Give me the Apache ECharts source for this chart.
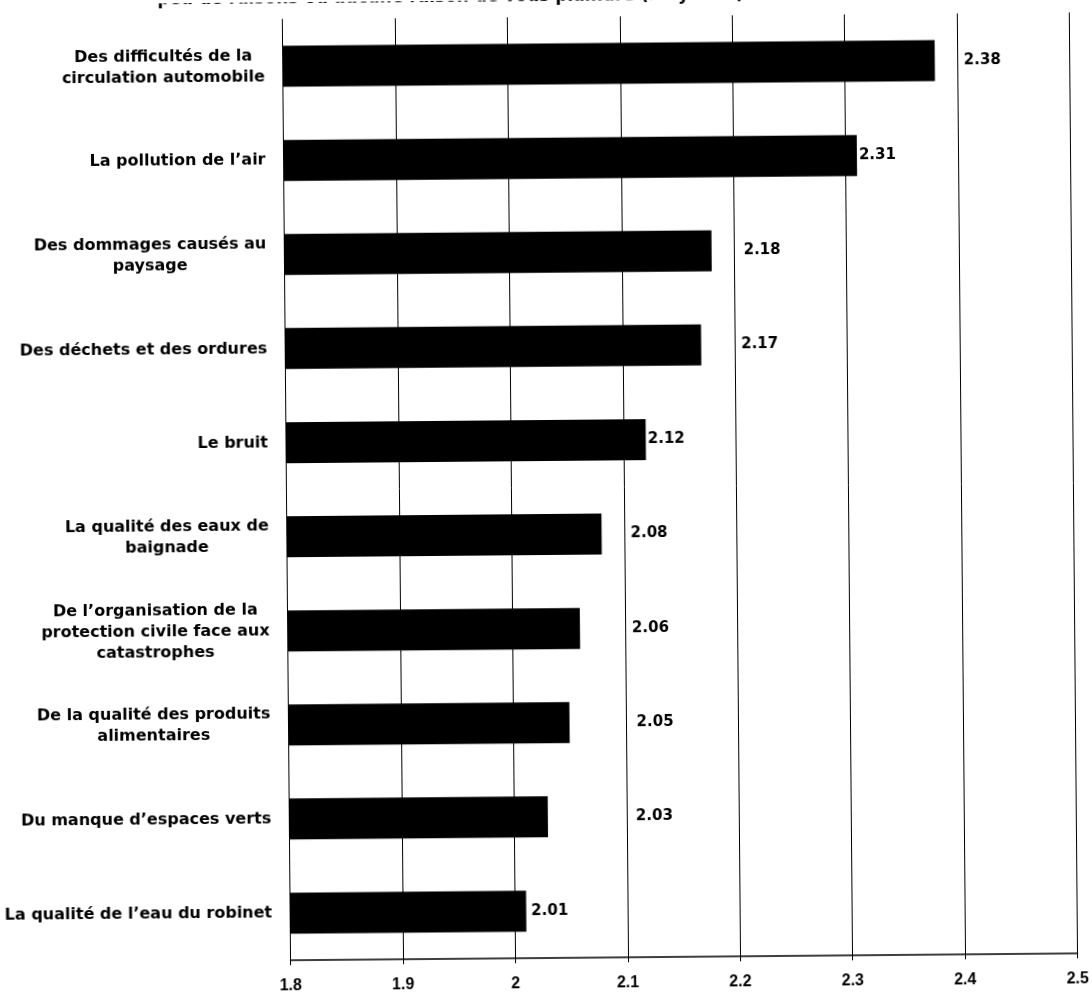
<!DOCTYPE html>
<html>
<head>
<meta charset="utf-8">
<script src="https://cdn.jsdelivr.net/npm/echarts@6/dist/echarts.min.js"></script>
<style>
  html, body { margin: 0; padding: 0; background: #fff; overflow: hidden; }
  #chart { width: 1092px; height: 994px; transform: rotate(-0.5deg); transform-origin: 50% 50%; }
</style>
</head>
<body>
<div id="chart"></div>
<script>
// Survey items, listed top to bottom
const categories = [
  "Des difficultés de la\ncirculation automobile",
  "La pollution de l’air",
  "Des dommages causés au\npaysage",
  "Des déchets et des ordures",
  "Le bruit",
  "La qualité des eaux de\nbaignade",
  "De l’organisation de la\nprotection civile face aux\ncatastrophes",
  "De la qualité des produits\nalimentaires",
  "Du manque d’espaces verts",
  "La qualité de l’eau du robinet"
];

// Mean score per item
const scores = [2.38, 2.31, 2.18, 2.17, 2.12, 2.08, 2.06, 2.05, 2.03, 2.01];

// Horizontal scale
const axisMin = 1.8;
const axisMax = 2.5;
const axisStep = 0.1;

// Gap (px) between each bar end and its value label
const labelGap = [29, 2, 32, 40, 2, 29, 52, 67, 88, 5];

const headline = "peu de raisons ou aucune raison de vous plaindre (moyenne)";

const chart = echarts.init(document.getElementById('chart'), null, { renderer: 'canvas' });

const labelFont = 'DejaVu Sans';

chart.setOption({
  backgroundColor: '#fff',
  animation: false,
  grid: {
    left: 286.5, right: 18.5, top: 17, bottom: 36,
    containLabel: false,
    outerBoundsMode: 'none'
  },
  graphic: [{
    type: 'text',
    x: 455, y: -3,
    style: {
      text: headline,
      textAlign: 'center',
      textVerticalAlign: 'middle',
      fontFamily: labelFont,
      fontWeight: 'bold',
      fontSize: 17,
      fill: '#000'
    }
  }],
  xAxis: {
    type: 'value',
    min: axisMin, max: axisMax, interval: axisStep,
    axisLine: { show: true, lineStyle: { color: '#000', width: 1.5 } },
    axisTick: { show: true, length: 5, lineStyle: { color: '#000', width: 1 } },
    splitLine: { show: true, lineStyle: { color: '#000', width: 1 } },
    axisLabel: {
      margin: 18,
      color: '#000',
      fontFamily: 'Liberation Sans',
      fontWeight: 'bold',
      fontSize: 16
    }
  },
  yAxis: {
    type: 'category',
    inverse: true,
    data: categories,
    axisLine: { show: true, lineStyle: { color: '#000', width: 1 } },
    axisTick: { show: false },
    splitLine: { show: false },
    axisLabel: {
      margin: 18,
      color: '#000',
      formatter: function (v) {
        return v.split('\n').map(function (l) { return '{c|' + l + '}'; }).join('\n');
      },
      rich: {
        c: {
          align: 'center',
          fontFamily: labelFont,
          fontWeight: 'bold',
          fontSize: 16,
          lineHeight: 21,
          color: '#000'
        }
      }
    }
  },
  series: [{
    type: 'bar',
    barWidth: 41,
    itemStyle: { color: '#000' },
    data: scores.map(function (v, i) {
      return { value: v, label: { distance: labelGap[i] } };
    }),
    label: {
      show: true,
      position: 'right',
      color: '#000',
      fontFamily: labelFont,
      fontWeight: 'bold',
      fontSize: 15,
      formatter: function (p) { return p.value.toFixed(2); }
    }
  }]
});
</script>
</body>
</html>
